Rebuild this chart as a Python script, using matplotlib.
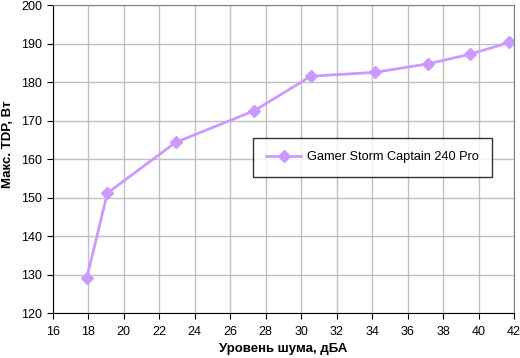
import matplotlib
matplotlib.use('Agg')
import matplotlib.pyplot as plt

plt.rcParams['font.family'] = ['Liberation Sans', 'DejaVu Sans']

noise = [17.92, 19.08, 22.93, 27.35, 30.56, 34.17, 37.14, 39.52, 41.74]
tdp = [129.1, 151.2, 164.4, 172.6, 181.6, 182.6, 184.8, 187.3, 190.4]
series_name = 'Gamer Storm Captain 240 Pro'

fig = plt.figure(figsize=(5.2, 3.58), dpi=100)
ax = fig.add_axes([0.1013, 0.125, 0.8872, 0.86])

ax.plot(noise, tdp, color='#CC99FF', linewidth=2, marker='D', markersize=6,
        markeredgecolor='#CC99FF', label=series_name)

ax.set_xlim(16, 42)
ax.set_ylim(120, 200)
ax.set_xticks(range(16, 43, 2))
ax.set_yticks(range(120, 201, 10))
ax.grid(True, color='#C0C0C0', linewidth=1)
ax.set_axisbelow(True)

for side in ['top', 'right']:
    ax.spines[side].set_color('#808080')
for side in ['left', 'bottom']:
    ax.spines[side].set_color('black')
ax.tick_params(axis='both', direction='out', length=4, labelsize=9, color='black')
ax.tick_params(axis='x', pad=5)

ax.set_xlabel('Уровень шума, дБА', fontsize=9.5, fontweight='bold')
ax.xaxis.set_label_coords(0.5, -0.098)
ax.set_ylabel('Макс. TDP, Вт', fontsize=9.5, fontweight='bold')
ax.yaxis.set_label_coords(-0.084, 0.55)

leg = ax.legend(loc='upper left', bbox_to_anchor=(0.434, 0.569), fontsize=9.2,
                frameon=True, fancybox=False, edgecolor='black', borderpad=1.05,
                handlelength=2.7, handletextpad=0.5, borderaxespad=0)
leg.get_frame().set_linewidth(1)

fig.savefig('out.png', dpi=100)
